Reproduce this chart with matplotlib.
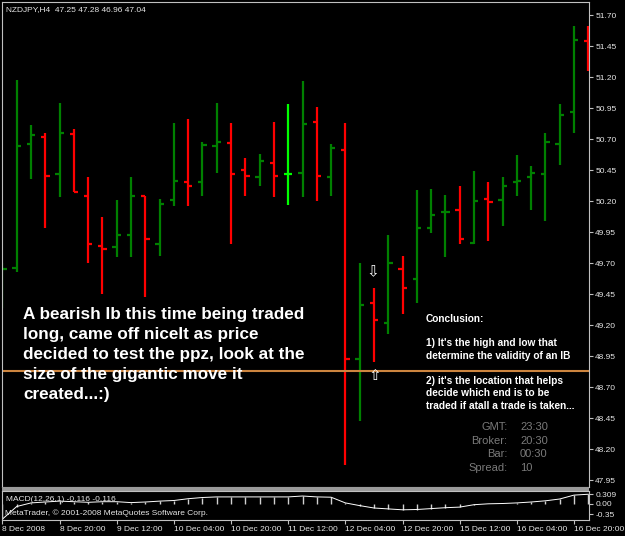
import matplotlib
matplotlib.use('Agg')
import matplotlib.pyplot as plt
import numpy as np
from matplotlib.patches import Rectangle

# NZDJPY H4 bars, 8 Dec 2008 04:00 onwards (one bar every 4 hours)
opens = [49.40, 49.66, 50.66, 50.72, 50.42, 50.74, 50.24, 49.84, 49.83, 49.93,
         50.24, 49.85, 50.21, 50.35, 50.35, 50.64, 50.67, 50.45, 50.39, 50.51,
         50.42, 50.43, 50.84, 50.39, 50.61, 48.93, 49.38, 49.22, 49.65, 49.57,
         49.98, 50.11, 50.13, 49.86, 50.22, 50.21, 50.35, 50.39, 50.42, 50.66,
         50.92, 51.49]
highs = [49.70, 51.18, 50.81, 50.75, 50.99, 50.78, 50.39, 50.07, 50.21, 50.39,
         50.24, 50.22, 50.83, 50.86, 50.68, 50.99, 50.83, 50.55, 50.58, 50.84,
         50.98, 51.17, 50.96, 50.66, 50.83, 49.70, 49.50, 49.93, 49.76, 50.29,
         50.30, 50.25, 50.32, 50.44, 50.35, 50.39, 50.57, 50.48, 50.75, 50.98,
         51.61, 51.61]
lows = [49.34, 49.63, 50.38, 49.98, 50.23, 50.27, 49.70, 49.45, 49.75, 49.75,
        49.43, 49.76, 50.16, 50.16, 50.24, 50.43, 49.85, 50.24, 50.32, 50.23,
        50.17, 50.23, 50.20, 50.24, 48.07, 48.43, 48.90, 49.13, 49.29, 49.38,
        49.94, 49.75, 49.85, 49.85, 49.88, 50.00, 50.24, 50.13, 50.04, 50.49,
        50.75, 51.25]
closes = [49.65, 50.64, 50.73, 50.40, 50.75, 50.27, 49.85, 49.81, 49.93, 50.24,
          49.89, 50.18, 50.36, 50.32, 50.65, 50.68, 50.42, 50.40, 50.52, 50.40,
          50.42, 50.82, 50.40, 50.63, 48.93, 49.36, 49.24, 49.70, 49.50, 49.98,
          50.09, 50.11, 49.89, 50.20, 50.19, 50.32, 50.36, 50.43, 50.68, 50.89,
          51.50, 51.42]
macd = [-0.52, -0.10, 0.02, 0.05, 0.08, 0.06, 0.04, 0.06, 0.06, 0.03,
        0.05, 0.08, 0.10, 0.16, 0.20, 0.22, 0.22, 0.22, 0.22, 0.22,
        0.22, 0.25, 0.22, 0.21, 0.02, -0.07, -0.15, -0.18, -0.21, -0.20,
        -0.17, -0.14, -0.12, -0.04, -0.01, 0.00, 0.02, 0.05, 0.09, 0.15,
        0.28, 0.309]
highlight_bar = 20
ppz_level = 48.83
arrow_down = 49.63
arrow_up = 48.79
arrow_bar = 26

price_ticks = [51.70, 51.45, 51.20, 50.95, 50.70, 50.45, 50.20, 49.95, 49.70,
               49.45, 49.20, 48.95, 48.70, 48.45, 48.20, 47.95]
macd_ticks = [0.309, 0.0, -0.35]
macd_tick_labels = ['0.309', '0.00', '-0.35']
date_ticks = [0, 4, 8, 12, 16, 20, 24, 28, 32, 36, 40]
date_labels = ['8 Dec 2008', '8 Dec 20:00', '9 Dec 12:00', '10 Dec 04:00',
               '10 Dec 20:00', '11 Dec 12:00', '12 Dec 04:00', '12 Dec 20:00',
               '15 Dec 12:00', '16 Dec 04:00', '16 Dec 20:00']

header = 'NZDJPY,H4  47.25 47.28 46.96 47.04'
comment_lines = ['A bearish Ib this time being traded',
                 'long, came off niceIt as price',
                 'decided to test the ppz, look at the',
                 'size of the gigantic move it',
                 'created...:)']
conclusion_lines = [('Conclusion:', 319),
                    ('1) It\'s the high and low that', 343.3),
                    ('determine the validity of an IB', 356),
                    ('2) it\'s the location that helps', 380.7),
                    ('decide which end is to be', 393.3),
                    ('traded if atall a trade is taken...', 405.7)]
info_keys = ['GMT:', 'Broker:', 'Bar:', 'Spread:']
info_vals = ['23:30', '20:30', '00:30', '10']

plt.rcParams['font.family'] = ['Liberation Sans', 'DejaVu Sans']

W, H = 625, 536
def fx(px): return px / W
def fy(py): return 1 - py / H

green = '#008000'; red = '#ff0000'; lime = '#00ff00'
frame = '#c0c0c0'; txt = '#e6e6e6'

fig = plt.figure(figsize=(W/100, H/100), dpi=100, facecolor='black')
ax = fig.add_axes([fx(2), fy(487), (589-2)/W, (487-2)/H], facecolor='black')
ax2 = fig.add_axes([fx(2), fy(520), (589-2)/W, (520-491)/H], facecolor='black')
fig.patches.append(Rectangle((fx(2), fy(491)), (589-2)/W, 4/H, transform=fig.transFigure,
                             facecolor='#9a9a9a', edgecolor='none', zorder=5))

idx = np.arange(len(opens))
o = np.array(opens); c = np.array(closes)
cols = np.where(c >= o, green, red).astype(object)
cols[highlight_bar] = lime
tick = 0.3
ax.vlines(idx, lows, highs, colors=list(cols), lw=1.6)
ax.hlines(o, idx - tick, idx, colors=list(cols), lw=1.6)
ax.hlines(c, idx, idx + tick, colors=list(cols), lw=1.6)

ax.axhline(ppz_level, color='#cd853f', lw=1.5)
ax.text(arrow_bar - 0.1, arrow_down, '\u21e9', color='white', fontsize=11,
        ha='center', va='center', family='DejaVu Sans')
ax.text(arrow_bar + 0.05, arrow_up, '\u21e7', color='white', fontsize=11,
        ha='center', va='center', family='DejaVu Sans')

ax.set_xlim(-0.03, 41.05)
ax.set_ylim(47.894, 51.805)
ax.yaxis.tick_right()
ax.set_yticks(price_ticks)
ax.set_yticklabels(['%.2f' % p for p in price_ticks])
ax.tick_params(axis='y', colors=frame, labelcolor=txt, length=3, width=0.8,
               labelsize=6, pad=1.5)
ax.set_xticks([])
for s in ax.spines.values():
    s.set_color(frame); s.set_linewidth(0.8)

# MACD panel
ax2.vlines(idx, 0, macd, colors='#d0d0d0', lw=1.0)
ax2.plot(idx, macd, color='white', lw=0.7)
ax2.set_xlim(-0.03, 41.05)
ax2.set_ylim(-0.55, 0.417)
ax2.yaxis.tick_right()
ax2.set_yticks(macd_ticks)
ax2.set_yticklabels(macd_tick_labels)
ax2.tick_params(axis='y', colors=frame, labelcolor=txt, length=3, width=0.8,
                labelsize=6, pad=1.5)
ax2.set_xticks(date_ticks)
ax2.set_xticklabels(date_labels)
ax2.tick_params(axis='x', colors=frame, labelcolor=txt, length=3, width=0.8,
                labelsize=6, pad=1.5)
for lbl in ax2.get_xticklabels():
    lbl.set_ha('left')
for s in ax2.spines.values():
    s.set_color(frame); s.set_linewidth(0.8)

# texts
fig.text(fx(6), fy(9.3), header, color=txt, fontsize=6, va='center')
fig.text(fx(6), fy(499.3), 'MACD(12,26,1) -0.116 -0.116', color=txt, fontsize=6, va='center')
fig.text(fx(5), fy(513.3), 'MetaTrader, \u00a9 2001-2008 MetaQuotes Software Corp.',
         color=txt, fontsize=6, va='center')

for k, line in enumerate(comment_lines):
    fig.text(fx(23), fy(315 + 20 * k), line, color='white', fontsize=12.3,
             fontweight='bold', va='center')

for line, ypx in conclusion_lines:
    fig.text(fx(426), fy(ypx), line, color='white', fontsize=7.3,
             fontweight='bold', va='center')

for k in range(len(info_keys)):
    fig.text(fx(507.5), fy(427.3 + 13.5 * k), info_keys[k], color='#7a7a7a',
             fontsize=8, ha='right', va='center')
    fig.text(fx(520), fy(427.3 + 13.5 * k), info_vals[k], color='#7a7a7a',
             fontsize=8, ha='left', va='center')

fig.savefig('out.png', dpi=100, facecolor='black')
